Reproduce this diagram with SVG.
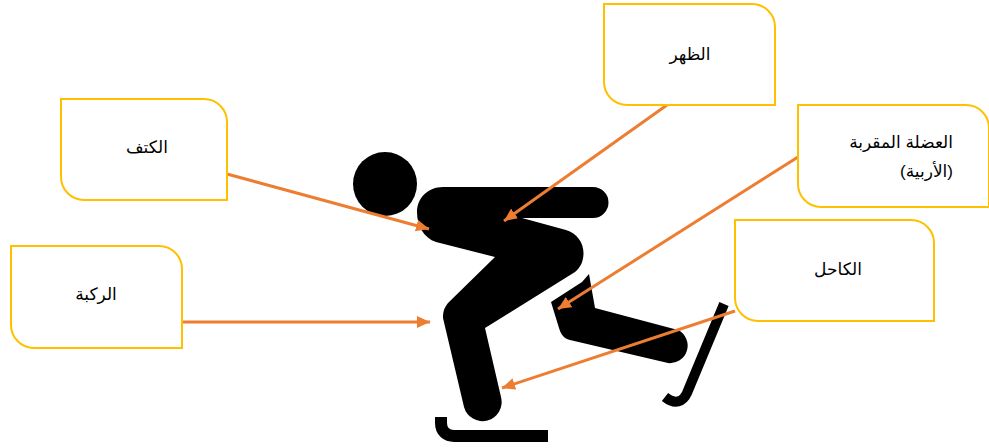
<svg xmlns="http://www.w3.org/2000/svg" width="989" height="448" viewBox="0 0 989 448">
<style>
.box{fill:#fff;stroke:#FFC000;stroke-width:2}
.lbl{font-family:"Liberation Sans","DejaVu Sans",sans-serif;font-size:17px;fill:#000;text-anchor:middle;direction:rtl}
.conn{stroke:#ED7D31;stroke-width:3;fill:none;marker-end:url(#arr)}
.fig{fill:#000}
.blade{fill:none;stroke:#000}
</style>
<defs>
<marker id="arr" markerUnits="userSpaceOnUse" markerWidth="14" markerHeight="12" refX="13" refY="6" orient="auto">
<path d="M0 0L13 6L0 12Z" fill="#ED7D31"/>
</marker>
</defs>
<rect width="989" height="448" fill="#fff"/>
<g id="skater">
<circle class="fig" cx="385" cy="184" r="32"/>
<path class="fig" d="M443 187H593A15.500 15.500 0 0 1 593 218H522L566 230C577 233 583.500 243 583.500 253C583.500 262 580 268 575 272L485 328L501 397A19 19 0 0 1 464 407L443 318C443 310 445 307 448 303L495 257L436 242C424 238 417 226 417 212C417 198 428 187 443 187Z"/>
<path class="fig" d="M589 274L595 308L678 330A17.500 17.500 0 0 1 668 363L570 340C563 338 561 334 559 328L551 302L582 282Z"/>
<path class="blade" stroke-width="10" d="M724 304L687 393C683 402 675 405 665 397"/>
<path class="blade" stroke-width="12" d="M441 417V423C441 432 447 436 454 436H548"/>
</g>
<g id="connectors">
<line class="conn" x1="667" y1="105" x2="504" y2="221"/>
<line class="conn" x1="227" y1="174" x2="429" y2="229"/>
<line class="conn" x1="798" y1="157" x2="558" y2="309"/>
<line class="conn" x1="182" y1="322" x2="430" y2="322"/>
<line class="conn" x1="735" y1="311" x2="502" y2="388"/>
</g>
<g id="node-back">
<path class="box" d="M604 4H752A23 23 0 0 1 775 27V105H627A23 23 0 0 1 604 82Z"/>
<text class="lbl" x="690" y="60">الظهر</text>
</g>
<g id="node-shoulder">
<path class="box" d="M61 99H204A23 23 0 0 1 227 122V200H84A23 23 0 0 1 61 177Z"/>
<text class="lbl" x="147" y="153">الكتف</text>
</g>
<g id="node-knee">
<path class="box" d="M11 246H159A23 23 0 0 1 182 269V348H34A23 23 0 0 1 11 325Z"/>
<text class="lbl" x="96" y="300">الركبة</text>
</g>
<g id="node-adductor">
<path class="box" d="M798 105H966A23 23 0 0 1 989 128V207H821A23 23 0 0 1 798 184Z"/>
<text class="lbl" x="953" y="148" style="text-anchor:start">العضلة المقربة</text>
<text class="lbl" x="953" y="177" style="text-anchor:start">(الأربية)</text>
</g>
<g id="node-ankle">
<path class="box" d="M735 220H911A23 23 0 0 1 934 243V321H758A23 23 0 0 1 735 298Z"/>
<text class="lbl" x="838" y="275">الكاحل</text>
</g>
</svg>
